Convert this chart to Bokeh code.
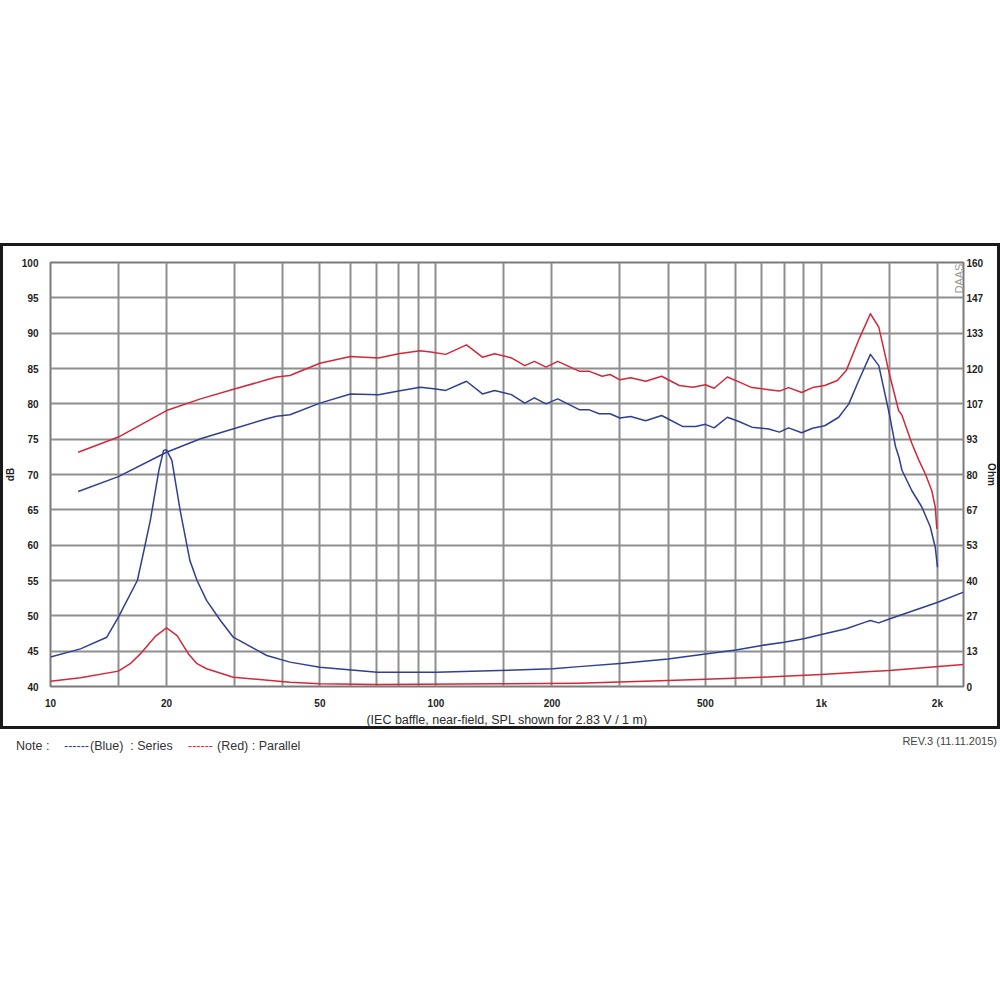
import math
from bokeh.plotting import figure
from bokeh.layouts import column
from bokeh.models import (Range1d, LinearAxis, FixedTicker, Label, Spacer, Div,
                          NumeralTickFormatter)
from bokeh.embed import file_html
from bokeh.resources import INLINE

# ---------------- data ----------------
spl_series_f = [11.8, 15, 20, 24.5, 30, 36.4, 38.6, 41.8, 50, 60, 71, 80, 91, 100, 106,
                120, 132, 142, 157, 170, 180, 193, 207, 236, 250, 265, 283, 300, 320, 350,
                385, 436, 472, 500, 527, 570, 611, 660, 730, 778, 822, 889, 948, 1020,
                1109, 1178, 1250, 1340, 1409, 1500, 1556, 1590, 1618, 1717, 1822, 1916,
                1974, 2001]
spl_series_db = [67.6, 69.7, 73.15, 75.05, 76.5, 77.9, 78.25, 78.45, 80.1, 81.4, 81.3,
                 81.8, 82.35, 82.1, 81.9, 83.2, 81.4, 81.9, 81.3, 80.1, 80.85, 80.0, 80.7,
                 79.15, 79.15, 78.6, 78.6, 78.0, 78.2, 77.6, 78.35, 76.8, 76.8, 77.1, 76.6,
                 78.1, 77.5, 76.7, 76.45, 76.0, 76.6, 75.9, 76.55, 76.9, 78.1, 80.0, 83.3,
                 87.0, 85.4, 78.6, 74.0, 72.4, 70.6, 67.7, 65.4, 62.6, 59.7, 56.9]

spl_parallel_f = [11.8, 15, 20, 24.5, 30, 36.4, 38.6, 41.8, 50, 60, 71, 80, 91, 98, 106,
                  120, 132, 142, 157, 170, 180, 193, 207, 236, 250, 270, 283, 300, 320,
                  350, 385, 428, 464, 500, 527, 570, 611, 660, 730, 778, 822, 889, 948,
                  1020, 1100, 1160, 1253, 1340, 1409, 1500, 1586, 1618, 1714, 1787, 1860,
                  1934, 1974, 1993]
spl_parallel_db = [73.15, 75.3, 79.05, 80.7, 82.1, 83.4, 83.8, 84.0, 85.75, 86.7, 86.5,
                   87.1, 87.5, 87.3, 87.0, 88.35, 86.6, 87.1, 86.5, 85.4, 86.0, 85.2, 86.0,
                   84.6, 84.6, 83.9, 84.15, 83.4, 83.7, 83.2, 83.9, 82.6, 82.35, 82.7,
                   82.2, 83.8, 83.1, 82.3, 82.0, 81.8, 82.3, 81.6, 82.3, 82.6, 83.3, 84.7,
                   89.2, 92.75, 90.85, 84.3, 79.05, 78.4, 74.5, 72.1, 70.1, 67.7, 65.4, 62.3]

imp_series_f = [10, 11.96, 14.0, 15, 16.8, 17.4, 18.15, 19.1, 19.65, 20.0, 20.65, 21.7,
                23.0, 24.0, 25.4, 27.6, 29.8, 36.4, 41.8, 50, 70.5, 100, 146, 201, 235,
                300, 400, 500, 600, 700, 800, 900, 1000, 1160, 1300, 1340, 1409, 1500,
                2005, 2337]
imp_series_ohm = [11.1, 14.2, 18.6, 26.2, 40.0, 50.1, 62.6, 81.5, 89.1, 89.3, 85.3, 66.4,
                  47.5, 40.0, 32.5, 24.9, 18.6, 11.7, 9.2, 7.3, 5.4, 5.4, 6.0, 6.7, 7.5,
                  8.7, 10.4, 12.3, 13.8, 15.5, 16.7, 18.0, 19.6, 21.8, 24.3, 24.9, 24.0,
                  25.5, 31.8, 35.6]

imp_parallel_f = [10, 11.96, 15, 16.1, 17.1, 18.7, 20.0, 21.3, 22.8, 24.0, 25.4, 29.8,
                  41.8, 50, 70.5, 146, 235, 400, 500, 700, 1000, 1340, 1500, 2337]
imp_parallel_ohm = [2.0, 3.3, 5.8, 8.6, 12.3, 18.9, 22.1, 19.2, 12.3, 8.6, 6.7, 3.5, 1.6,
                    1.0, 0.75, 1.0, 1.25, 2.26, 2.77, 3.5, 4.5, 5.66, 6.0, 8.3]

x_ticks = [10, 20, 50, 100, 200, 500, 1000, 2000]
x_tick_labels = ["10", "20", "50", "100", "200", "500", "1k", "2k"]
x_grid = [10, 15, 20, 30, 40, 50, 60, 70, 80, 90, 100, 150, 200, 300, 400, 500, 600,
          700, 800, 900, 1000, 1500, 2000]
db_ticks = [40, 45, 50, 55, 60, 65, 70, 75, 80, 85, 90, 95, 100]
ohm_ticks = [0, 160 / 12, 320 / 12, 40, 640 / 12, 800 / 12, 80, 1120 / 12, 1280 / 12,
             120, 1600 / 12, 1760 / 12, 160]

note_texts = ["Note :", "------", "(Blue)&nbsp; : Series", "------", "(Red) : Parallel"]
note_x = [16, 64, 90, 188, 217]
note_colors = ["#333333", "#2f3f94", "#333333", "#d2283a", "#333333"]
rev_text = "REV.3 (11.11.2015)"

BLUE = "#2f3f94"
RED = "#d2283a"
GRID = "#8e8e8e"
FONT = "Liberation Sans"

# ---------------- main chart ----------------
p = figure(width=1000, height=486, x_axis_type="log",
           x_range=Range1d(10, 2337), y_range=Range1d(40, 100),
           toolbar_location=None, output_backend="svg", title=None,
           min_border_left=50, min_border_right=35, min_border_top=19,
           min_border_bottom=43, background_fill_color="white",
           border_fill_color=None, outline_line_color="#7a7a7a",
           outline_line_width=2)
p.styles = {"box-shadow": "inset 0 0 0 3px #1a1a1a", "background-color": "white"}
p.extra_y_ranges = {"ohm": Range1d(0, 160)}

p.xgrid.ticker = FixedTicker(ticks=x_grid)
p.ygrid.ticker = FixedTicker(ticks=db_ticks)
for g in (p.xgrid, p.ygrid):
    g.grid_line_color = GRID
    g.grid_line_width = 2

xa = p.xaxis[0]
xa.ticker = FixedTicker(ticks=x_ticks)
xa.major_label_overrides = {t: l for t, l in zip(x_ticks, x_tick_labels)}
xa.axis_label = "(IEC baffle, near-field, SPL shown for 2.83 V / 1 m)"
xa.axis_label_text_font = FONT
xa.axis_label_text_font_style = "normal"
xa.axis_label_text_font_size = "12.5px"
xa.axis_label_text_color = "#2a2a2a"
xa.axis_label_standoff = 1

ya = p.yaxis[0]
ya.ticker = FixedTicker(ticks=db_ticks)
ya.axis_label = "dB"
ya.axis_label_standoff = 3

ra = LinearAxis(y_range_name="ohm", ticker=FixedTicker(ticks=ohm_ticks),
                formatter=NumeralTickFormatter(format="0"), axis_label="Ohm",
                axis_label_standoff=0)
p.add_layout(ra, "right")

for ax in (xa, ya, ra):
    ax.axis_line_color = None
    ax.major_tick_line_color = None
    ax.minor_tick_line_color = None
    ax.major_tick_out = 0
    ax.major_tick_in = 0
    ax.minor_tick_out = 0
    ax.minor_tick_in = 0
    ax.major_label_text_font = FONT
    ax.major_label_text_font_style = "bold"
    ax.major_label_text_font_size = "10px"
    ax.major_label_text_color = "#1e1e1e"
for ax in (ya, ra):
    ax.axis_label_text_font = FONT
    ax.axis_label_text_font_style = "bold"
    ax.axis_label_text_font_size = "10px"
    ax.axis_label_text_color = "#1e1e1e"
xa.major_label_standoff = 11
ya.major_label_standoff = 12
ra.major_label_standoff = 3

for fx, fy, col, rng in ((imp_parallel_f, imp_parallel_ohm, RED, "ohm"),
                         (imp_series_f, imp_series_ohm, BLUE, "ohm"),
                         (spl_parallel_f, spl_parallel_db, RED, "default"),
                         (spl_series_f, spl_series_db, BLUE, "default")):
    p.line(fx, fy, y_range_name=rng, line_color=col, line_width=1.5,
           line_join="round")

# watermark inside the plot frame (screen units relative to frame)
p.add_layout(Label(x=908, y=393, x_units="screen", y_units="screen", text="DAAS",
                   text_font=FONT, text_font_size="11px", text_color="#9a9a9a",
                   angle=math.pi / 2, text_align="left", text_baseline="middle"))

# ---------------- note row under the chart ----------------
spans = []
for t, x, c in zip(note_texts, note_x, note_colors):
    spans.append(f'<span style="position:absolute;left:{x}px;top:10px;color:{c};'
                 f'white-space:nowrap">{t}</span>')
spans.append(f'<span style="position:absolute;right:3px;top:5px;color:#444444;'
             f'font-size:11px;white-space:nowrap">{rev_text}</span>')
note = Div(text=('<div style="position:relative;width:1000px;height:40px;'
                 f'font-family:\'{FONT}\';font-size:12.5px;line-height:15px">'
                 + "".join(spans) + "</div>"),
           width=1000, height=40, margin=0)

layout = column(Spacer(width=1000, height=243, margin=0), p, note)
open("out.html", "w").write(file_html(layout, INLINE))
